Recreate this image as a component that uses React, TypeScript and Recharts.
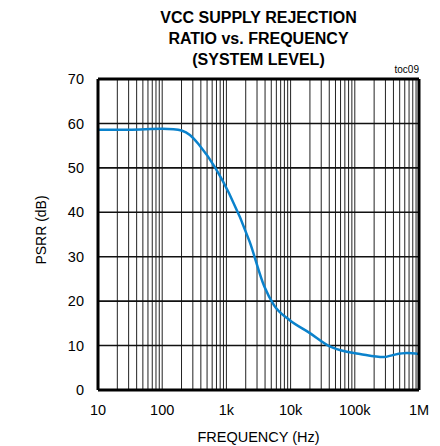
import React from "react";
import {
  LineChart,
  Line,
  XAxis,
  YAxis,
  ReferenceLine,
} from "recharts";

const frequency = [
  10, 30, 100, 150, 200, 270, 380, 680, 1100, 2300, 3900, 5500, 9500, 20000,
  40000, 75000, 120000, 280000, 400000, 650000, 1000000,
];
const psrr = [
  58.6, 58.6, 58.8, 58.7, 58.4, 57.4, 55.1, 49.9, 44.3, 33.4, 23.3, 19.1, 15.8,
  12.8, 9.9, 8.6, 8.1, 7.4, 7.9, 8.3, 8.1,
];
const xTicks = [10, 100, 1000, 10000, 100000, 1000000];
const xTickLabels = ["10", "100", "1k", "10k", "100k", "1M"];
const yTicks = [0, 10, 20, 30, 40, 50, 60, 70];
const minorSteps = [2, 3, 4, 5, 6, 7, 8, 9];

const data = frequency.map((f, i) => ({ f, psrr: psrr[i] }));

// every vertical grid position: decades plus 2..9 inside each decade
const verticalGrid: number[] = [];
xTicks.slice(0, -1).forEach((d) => {
  minorSteps.forEach((m) => verticalGrid.push(d * m));
  verticalGrid.push(d * 10);
});

const FONT = "'Liberation Sans Narrow', 'Liberation Sans', Arial, sans-serif";

export default function App() {
  return (
    <div
      style={{
        position: "absolute",
        left: 0,
        top: 0,
        width: 440,
        height: 446,
        background: "#fff",
        fontFamily: FONT,
      }}
    >
      <div
        style={{
          position: "absolute",
          left: 98,
          width: 321,
          top: 7,
          textAlign: "center",
          fontWeight: "bold",
          fontSize: 16,
          lineHeight: "21px",
          color: "#000",
        }}
      >
        VCC SUPPLY REJECTION
        <br />
        RATIO vs. FREQUENCY
        <br />
        (SYSTEM LEVEL)
      </div>
      <div
        style={{
          position: "absolute",
          right: 21,
          top: 64,
          fontSize: 10,
          color: "#000",
        }}
      >
        toc09
      </div>
      <div
        style={{
          position: "absolute",
          left: 41,
          top: 230,
          transform: "translate(-50%, -50%) rotate(-90deg)",
          fontSize: 14,
          whiteSpace: "nowrap",
          color: "#000",
        }}
      >
        PSRR (dB)
      </div>
      <div
        style={{
          position: "absolute",
          left: 98,
          width: 321,
          top: 429,
          textAlign: "center",
          fontSize: 14.5,
          color: "#000",
        }}
      >
        FREQUENCY (Hz)
      </div>
      <LineChart
        width={440}
        height={446}
        data={data}
        margin={{ top: 79, right: 21, left: 68, bottom: 26 }}
        style={{ position: "absolute", left: 0, top: 0 }}
      >
        <XAxis
          dataKey="f"
          type="number"
          scale="log"
          domain={[10, 1000000]}
          ticks={xTicks}
          tickFormatter={(v) => xTickLabels[xTicks.indexOf(v)] ?? ""}
          axisLine={false}
          tickLine={false}
          tickSize={0}
          tickMargin={15}
          height={30}
          tick={{ fill: "#000", fontSize: 14.5, fontFamily: FONT }}
          allowDataOverflow
        />
        <YAxis
          type="number"
          domain={[0, 70]}
          ticks={yTicks}
          axisLine={false}
          tickLine={false}
          tickSize={0}
          tickMargin={14}
          width={30}
          tick={{ fill: "#000", fontSize: 14.5, fontFamily: FONT }}
        />
        {verticalGrid.map((x) => (
          <ReferenceLine key={"v" + x} x={x} stroke="#222" strokeWidth={1} />
        ))}
        {yTicks.slice(1, -1).map((y) => (
          <ReferenceLine key={"h" + y} y={y} stroke="#111" strokeWidth={1.6} />
        ))}
        <Line
          type="monotone"
          dataKey="psrr"
          stroke="#0a82cc"
          strokeWidth={2.5}
          dot={false}
          isAnimationActive={false}
        />
        <ReferenceLine x={10} stroke="#000" strokeWidth={3} />
        <ReferenceLine x={1000000} stroke="#000" strokeWidth={3} />
        <ReferenceLine y={0} stroke="#000" strokeWidth={3} />
        <ReferenceLine y={70} stroke="#000" strokeWidth={3} />
      </LineChart>
    </div>
  );
}
